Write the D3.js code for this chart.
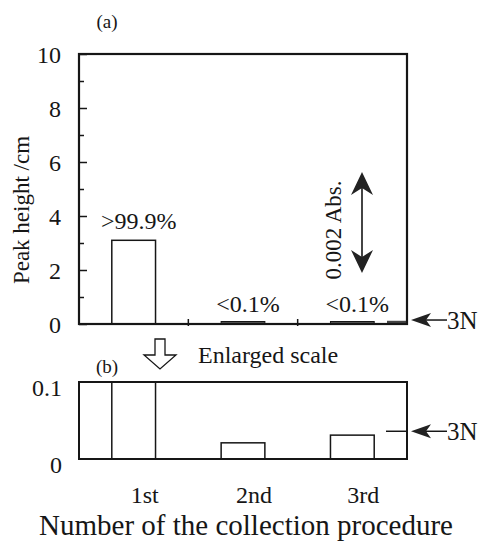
<!DOCTYPE html>
<html>
<head>
<meta charset="utf-8">
<script src="https://cdn.jsdelivr.net/npm/d3@7"></script>
<style>
  body { margin: 0; background: #fff; }
</style>
</head>
<body>
<svg id="chart" width="478" height="546"></svg>
<script>
// data
var categories = ["1st", "2nd", "3rd"];
var peakHeights = [3.1, 0.021, 0.031];   // cm
var barLabels = [">99.9%", "<0.1%", "<0.1%"];
var threeN = 0.036;                       // detection limit (3N)
var majorTicksA = [0, 2, 4, 6, 8, 10];
var minorTicksA = [1, 3, 5, 7, 9];
var ticksB = [0, 0.1];

var serif = "'Liberation Serif', 'Times New Roman', 'DejaVu Serif', serif";
var ink = "#161616";

var svg = d3.select("#chart");

var left = 79, right = 407;

var x = d3.scaleBand().domain(categories).range([left, right]).padding(0);
var barW = x.bandwidth() * 0.4;

// ****************** panel (a) ***************************
var yA = d3.scaleLinear().domain([0, 10]).range([324, 54]);
var gA = svg.append("g");

gA.append("g")
    .attr("transform", "translate(" + left + ",0)")
    .call(d3.axisLeft(yA).tickValues(majorTicksA).tickSize(-8).tickPadding(18).tickFormat(d3.format("d")))
    .call(function(g) {
      g.select(".domain").remove();
      g.selectAll("text").style("font-size", "24px").attr("dy", "0.34em");
      g.selectAll("line").attr("stroke", ink).attr("stroke-width", 1.5);
    });

gA.append("g")
    .attr("transform", "translate(" + left + ",0)")
    .call(d3.axisLeft(yA).tickValues(minorTicksA).tickSize(-5).tickFormat(""))
    .call(function(g) {
      g.select(".domain").remove();
      g.selectAll("line").attr("stroke", ink).attr("stroke-width", 1.5);
    });

// category separators on the bottom axis
gA.selectAll("line.sep")
    .data(categories.slice(1))
  .enter().append("line")
    .attr("class", "sep")
    .attr("x1", function(d) { return x(d); })
    .attr("x2", function(d) { return x(d); })
    .attr("y1", yA(0) + 2)
    .attr("y2", yA(0) - 5)
    .attr("stroke", ink).attr("stroke-width", 1.5);

gA.selectAll("rect.bar")
    .data(peakHeights)
  .enter().append("rect")
    .attr("class", "bar")
    .attr("x", function(d, i) { return x(categories[i]) + (x.bandwidth() - barW) / 2; })
    .attr("width", barW)
    .attr("y", function(d) { return Math.min(yA(d), yA(0) - 2.5); })
    .attr("height", function(d) { return Math.max(yA(0) - yA(d), 2.5); })
    .attr("fill", function(d) { return yA(0) - yA(d) < 2 ? "#555" : "#fff"; })
    .attr("stroke", ink)
    .attr("stroke-width", function(d) { return yA(0) - yA(d) < 2 ? 1 : 1.5; });

gA.selectAll("text.pct")
    .data(peakHeights)
  .enter().append("text")
    .attr("class", "pct")
    .attr("x", function(d, i) { return x(categories[i]) + x.bandwidth() / 2 + 5; })
    .attr("y", function(d) { return Math.min(yA(d), yA(0)) - 11; })
    .attr("text-anchor", "middle")
    .style("font-size", "24px")
    .text(function(d, i) { return barLabels[i]; });

// 3N level stub inside frame
gA.append("line")
    .attr("x1", right - 20).attr("x2", right)
    .attr("y1", yA(threeN) - 1).attr("y2", yA(threeN) - 1)
    .attr("stroke", "#444").attr("stroke-width", 2.5);

gA.append("rect")
    .attr("x", left).attr("y", yA(10))
    .attr("width", right - left).attr("height", yA(0) - yA(10))
    .attr("fill", "none").attr("stroke", ink).attr("stroke-width", 2.2);

// 0.002 Abs. scale arrow
var defs = svg.append("defs");
var arrowX = 362, arrowTop = 172, arrowBot = 273;
gA.append("line")
    .attr("x1", arrowX).attr("x2", arrowX)
    .attr("y1", arrowTop + 14).attr("y2", arrowBot - 14)
    .attr("stroke", ink).attr("stroke-width", 1.6);
gA.append("path")
    .attr("d", "M" + arrowX + "," + arrowTop + " L" + (arrowX + 11) + "," + (arrowTop + 23) +
               " L" + arrowX + "," + (arrowTop + 16) + " L" + (arrowX - 11) + "," + (arrowTop + 23) + "Z")
    .attr("fill", "#222");
gA.append("path")
    .attr("d", "M" + arrowX + "," + arrowBot + " L" + (arrowX + 11) + "," + (arrowBot - 23) +
               " L" + arrowX + "," + (arrowBot - 16) + " L" + (arrowX - 11) + "," + (arrowBot - 23) + "Z")
    .attr("fill", "#222");
gA.append("text")
    .attr("transform", "translate(341,230) rotate(-90)")
    .attr("text-anchor", "middle")
    .style("font-size", "23px")
    .text("0.002 Abs.");

svg.append("text")
    .attr("transform", "translate(29,210) rotate(-90)")
    .attr("text-anchor", "middle")
    .style("font-size", "23px")
    .text("Peak height /cm");

svg.append("text")
    .attr("x", 107).attr("y", 28)
    .attr("text-anchor", "middle")
    .style("font-size", "19px")
    .text("(a)");

// ****************** panel (b) ***************************
var yB = d3.scaleLinear().domain([0, 0.1]).range([459, 382]);
var gB = svg.append("g");

defs.append("clipPath").attr("id", "clipB")
  .append("rect")
    .attr("x", left).attr("y", yB(0.1))
    .attr("width", right - left).attr("height", yB(0) - yB(0.1));

gB.append("g")
    .attr("transform", "translate(" + left + ",0)")
    .call(d3.axisLeft(yB).tickValues(ticksB).tickSize(0).tickPadding(17).tickFormat(function(d) { return d === 0 ? "0" : d3.format(".1f")(d); }))
    .call(function(g) {
      g.select(".domain").remove();
      g.selectAll("text").style("font-size", "24px").attr("dy", "0.55em");
    });

gB.append("g").attr("clip-path", "url(#clipB)")
  .selectAll("rect")
    .data(peakHeights)
  .enter().append("rect")
    .attr("x", function(d, i) { return x(categories[i]) + (x.bandwidth() - barW) / 2; })
    .attr("width", barW)
    .attr("y", function(d) { return yB(d); })
    .attr("height", function(d) { return yB(0) - yB(d); })
    .attr("fill", "#fff")
    .attr("stroke", ink).attr("stroke-width", 1.5);

gB.append("line")
    .attr("x1", right - 21).attr("x2", right)
    .attr("y1", yB(threeN)).attr("y2", yB(threeN))
    .attr("stroke", ink).attr("stroke-width", 1.5);

gB.append("rect")
    .attr("x", left).attr("y", yB(0.1))
    .attr("width", right - left).attr("height", yB(0) - yB(0.1))
    .attr("fill", "none").attr("stroke", ink).attr("stroke-width", 2);

gB.append("g")
    .attr("transform", "translate(11,503)")
    .call(d3.axisBottom(x).tickSize(0).tickPadding(0))
    .call(function(g) {
      g.select(".domain").remove();
      g.selectAll("text").style("font-size", "24px").attr("dy", "0");
    });

svg.append("text")
    .attr("x", 246).attr("y", 535)
    .attr("text-anchor", "middle")
    .style("font-size", "29px")
    .text("Number of the collection procedure");

svg.append("text")
    .attr("x", 107).attr("y", 373)
    .attr("text-anchor", "middle")
    .style("font-size", "19px")
    .text("(b)");

// hollow "enlarged" arrow
var hx = 160;
svg.append("path")
    .attr("d", "M" + (hx - 5) + ",339 L" + (hx + 5) + ",339 L" + (hx + 5) + ",355 L" + (hx + 16) + ",355 L" + hx +
               ",369 L" + (hx - 16) + ",355 L" + (hx - 5) + ",355 Z")
    .attr("fill", "#fff").attr("stroke", ink).attr("stroke-width", 1.3);
svg.append("text")
    .attr("x", 198).attr("y", 363)
    .style("font-size", "24px")
    .text("Enlarged scale");

// 3N pointers
function pointer(yy) {
  svg.append("line")
      .attr("x1", 424).attr("x2", 447)
      .attr("y1", yy).attr("y2", yy)
      .attr("stroke", ink).attr("stroke-width", 1.5);
  svg.append("path")
      .attr("d", "M411," + yy + " L431," + (yy - 7) + " L426," + yy + " L431," + (yy + 7) + "Z")
      .attr("fill", "#222");
  svg.append("text")
      .attr("x", 447).attr("y", yy + 9)
      .style("font-size", "25px")
      .text("3N");
}
pointer(yA(threeN) - 3);
pointer(yB(threeN));

svg.selectAll("text").style("font-family", serif).style("fill", ink);
</script>
</body>
</html>
